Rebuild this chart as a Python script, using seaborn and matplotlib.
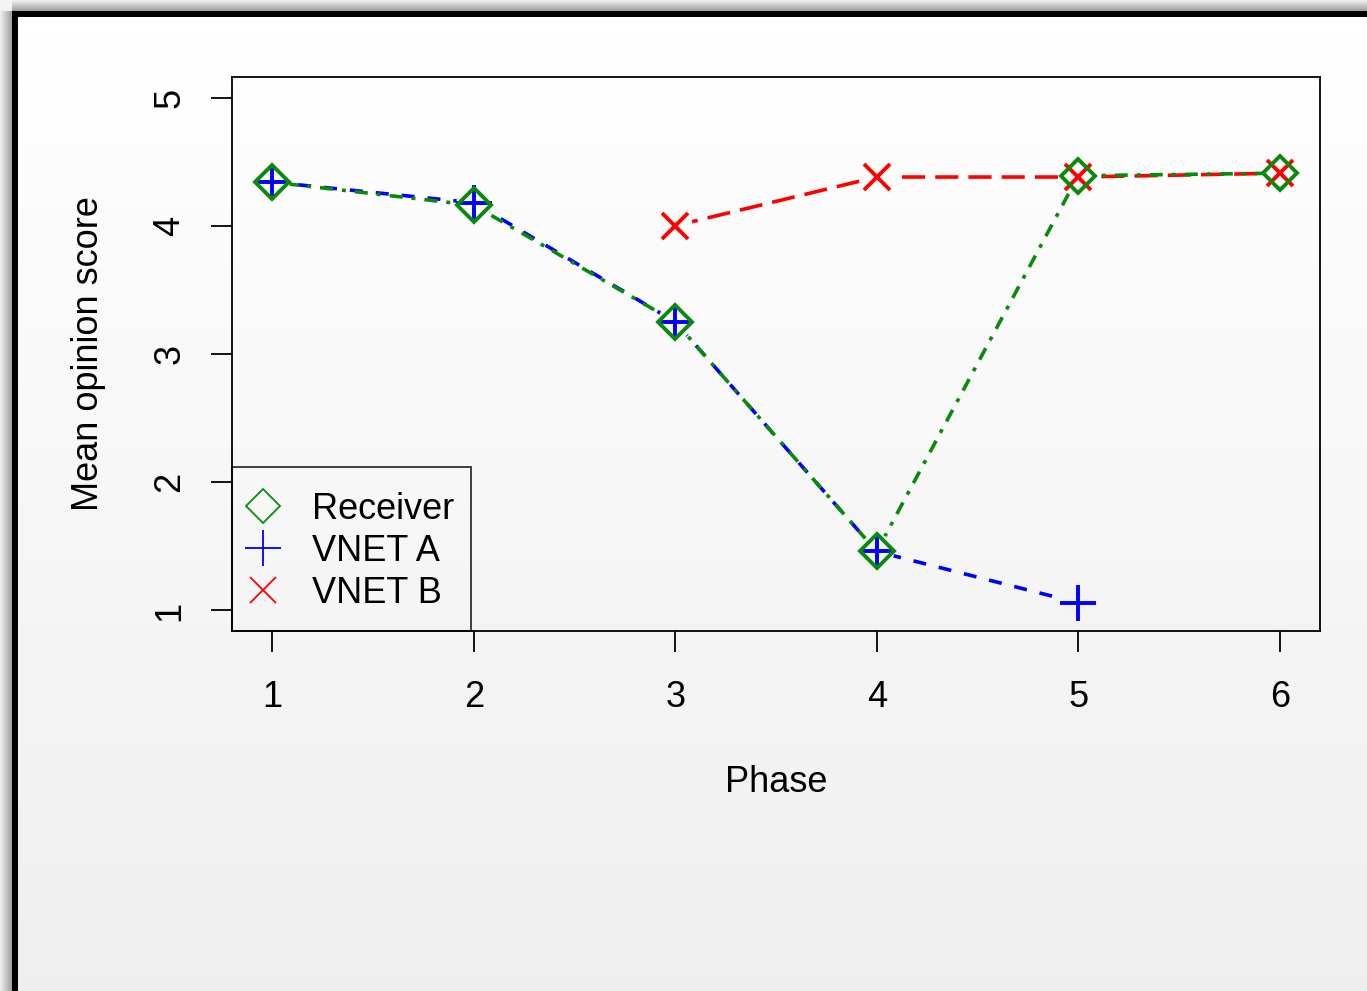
import numpy as np
import pandas as pd
import matplotlib
matplotlib.use("Agg")
import matplotlib.pyplot as plt
import seaborn as sns
from matplotlib.lines import Line2D
from matplotlib.legend_handler import HandlerLine2D

# ---------------- data ----------------
phase_receiver = [1, 2, 3, 4, 5, 6]
mos_receiver = [4.34, 4.16, 3.25, 1.46, 4.39, 4.41]
phase_vnet_a = [1, 2, 3, 4, 5]
mos_vnet_a = [4.34, 4.18, 3.25, 1.46, 1.06]
phase_vnet_b = [3, 4, 5, 6]
mos_vnet_b = [4.00, 4.38, 4.38, 4.41]
series_names = ["Receiver", "VNET A", "VNET B"]
x_ticks = [1, 2, 3, 4, 5, 6]
y_ticks = [1, 2, 3, 4, 5]
x_label = "Phase"
y_label = "Mean opinion score"

# ---------------- style ----------------
W, H = 1367, 991
GREEN, BLUE, RED = "#0a8a0a", "#0000FF", "#FF0000"
FS = 26
sns.set_theme(style="white")
plt.rcParams["font.family"] = ["Liberation Sans", "DejaVu Sans"]

fig = plt.figure(figsize=(W / 100, H / 100), dpi=100)

# background: vertical gradient + framed shadow edge
def bgval(row):
    return 0.998 - 0.065 * np.asarray(row) / H

rows = np.arange(H)[:, None] * np.ones((1, W))
cols = np.ones((H, 1)) * np.arange(W)[None, :]
img = bgval(rows)
top = (rows < 11) & (cols >= 6)
img[top] = 0.93 - 0.33 * rows[top] / 11
left = (cols < 12) & (rows >= 6)
img[left] = 0.93 - 0.33 * cols[left] / 12
corner = (rows < 11) & (cols < 12)
img[corner] = 0.95
img[(rows >= 11) & (rows <= 16) & (cols >= 12)] = 0.0
img[(cols >= 12) & (cols <= 17) & (rows >= 11)] = 0.0
bg_ax = fig.add_axes([0, 0, 1, 1], zorder=-10)
bg_ax.imshow(img, cmap="gray", vmin=0, vmax=1, aspect="auto",
             interpolation="nearest", extent=(0, W, H, 0))
bg_ax.axis("off")

# main axes
ax = fig.add_axes([232 / W, 1 - 631 / H, (1320 - 232) / W, (631 - 77) / H])
ax.set_facecolor("none")

df = pd.concat([
    pd.DataFrame({"Phase": phase_receiver, "MOS": mos_receiver, "Series": "Receiver"}),
    pd.DataFrame({"Phase": phase_vnet_a, "MOS": mos_vnet_a, "Series": "VNET A"}),
    pd.DataFrame({"Phase": phase_vnet_b, "MOS": mos_vnet_b, "Series": "VNET B"}),
], ignore_index=True)

palette = {"Receiver": GREEN, "VNET A": BLUE, "VNET B": RED}
dashes = {"Receiver": (1.1, 2.5, 3.6, 2.5), "VNET A": (3.6, 3.6), "VNET B": (6.4, 2.8)}
sns.lineplot(data=df, x="Phase", y="MOS", hue="Series", style="Series",
             hue_order=["VNET B", "VNET A", "Receiver"],
             palette=palette, dashes=dashes, estimator=None, sort=True,
             linewidth=2.6, legend=False, ax=ax)
for ln in ax.lines:
    ln.set_zorder(1)
    ln.set_dash_capstyle("butt")

ax.set_xlim(0.8, 6.2)
ax.set_ylim(0.84, 5.16)

# gaps around points (R type="b")
for px, py in [(phase_receiver, mos_receiver), (phase_vnet_a, mos_vnet_a), (phase_vnet_b, mos_vnet_b)]:
    disp = ax.transData.transform(np.column_stack([px, py]))
    g = bgval(H - disp[:, 1])
    ax.scatter(px, py, s=25 ** 2, c=np.column_stack([g, g, g]), edgecolors="none", zorder=2)

ax.plot(phase_vnet_b, mos_vnet_b, ls="none", marker="x", ms=19, mew=2.8, color=RED, zorder=3)
ax.plot(phase_vnet_a, mos_vnet_a, ls="none", marker="+", ms=26, mew=2.8, color=BLUE, zorder=3.1)
ax.plot(phase_receiver, mos_receiver, ls="none", marker="D", ms=17, mfc="none",
        mec=GREEN, mew=2.8, zorder=3.2)

# axes styling
for sp in ax.spines.values():
    sp.set_visible(True)
    sp.set_color("black")
    sp.set_linewidth(1.3)
ax.set_xticks(x_ticks)
ax.set_yticks(y_ticks)
ax.set_xticklabels([str(v) for v in x_ticks])
ax.set_yticklabels([str(v) for v in y_ticks])
ax.tick_params(axis="both", direction="out", length=15, width=1.3, color="black",
               labelsize=FS, labelcolor="black", bottom=True, left=True)
ax.tick_params(axis="x", pad=20)
ax.tick_params(axis="y", pad=17)
for lab in ax.get_yticklabels():
    lab.set_rotation(90)
    lab.set_va("center")

ax.set_xlabel(x_label, fontsize=FS, color="black")
ax.set_ylabel(y_label, fontsize=FS, color="black")
ax.xaxis.set_label_coords(0.5, -(782 - 631) / 554)
ax.xaxis.label.set_va("center")
ax.yaxis.set_label_coords((89 - 232) / 1088, 0.5)
ax.yaxis.label.set_va("center")


class CenteredMarkerHandler(HandlerLine2D):
    """Place legend markers on the text's vertical centre."""
    def create_artists(self, legend, orig_handle, xdescent, ydescent, width,
                       height, fontsize, trans):
        arts = super().create_artists(legend, orig_handle, xdescent, ydescent,
                                      width, height, fontsize, trans)
        for a in arts:
            a.set_ydata(np.asarray(a.get_ydata(), dtype=float) - 0.12 * fontsize)
        return arts


handles = [
    Line2D([], [], ls="none", marker="D", ms=17, mfc="none", mec=GREEN, mew=1.3),
    Line2D([], [], ls="none", marker="+", ms=26, color=BLUE, mew=1.3),
    Line2D([], [], ls="none", marker="x", ms=19, color=RED, mew=1.3),
]
leg = ax.legend(handles, series_names, loc="lower left", bbox_to_anchor=(0, 0),
                borderaxespad=0, fontsize=FS, frameon=True, fancybox=False,
                edgecolor="black", facecolor="none", handlelength=0.78,
                handleheight=1.55, handletextpad=0.97, borderpad=0.47,
                labelspacing=-0.08,
                handler_map={Line2D: CenteredMarkerHandler()})
leg.get_frame().set_linewidth(1.3)
for t in leg.get_texts():
    t.set_color("black")

fig.savefig("out.png", dpi=100)
